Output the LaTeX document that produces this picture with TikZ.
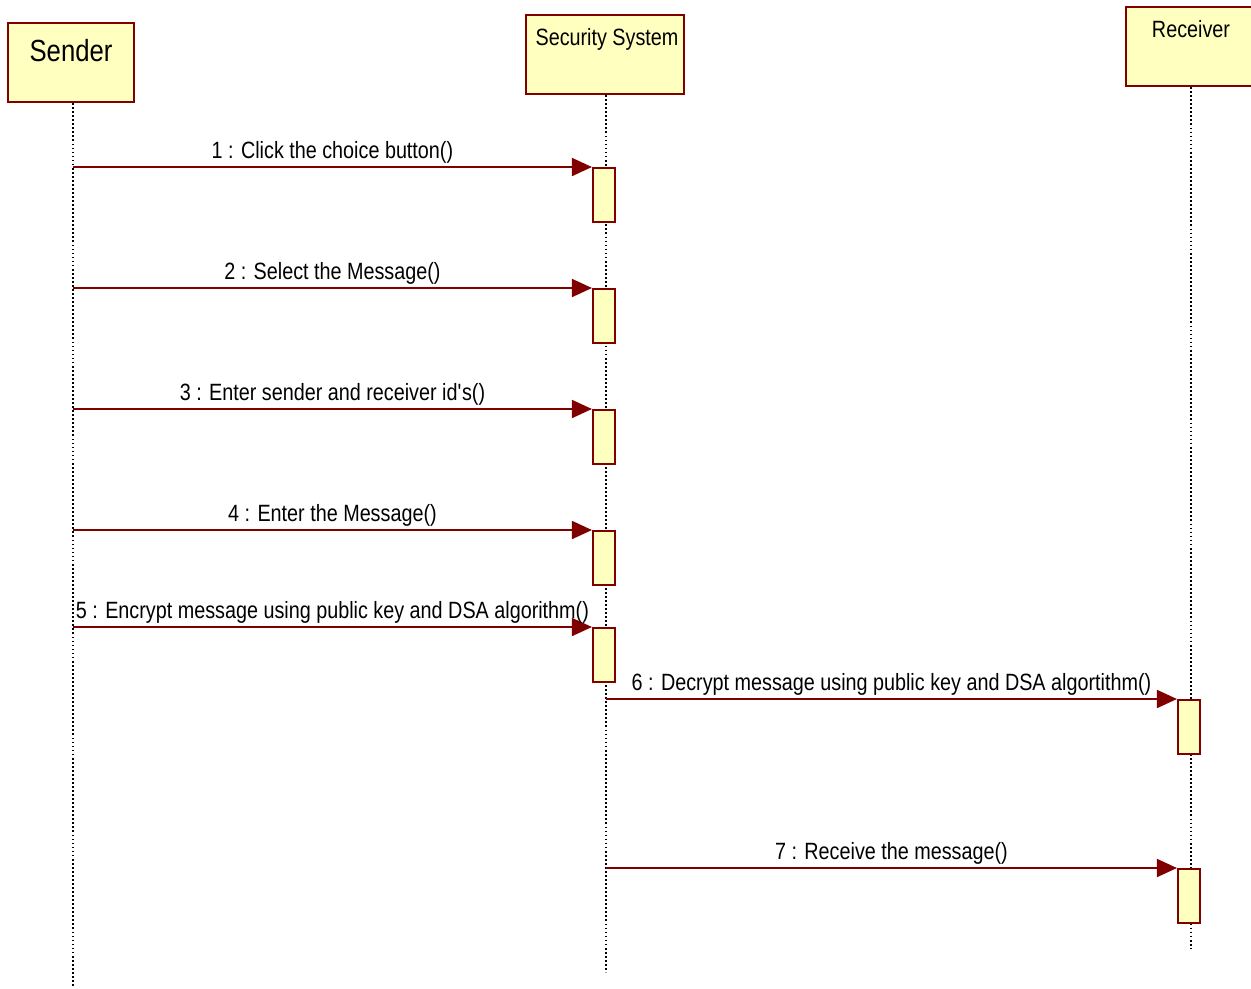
\documentclass[tikz,border=0pt]{standalone}
\usepackage{fontspec}
\setmainfont{Liberation Sans}[FakeStretch=0.84]
\usetikzlibrary{arrows.meta}
\definecolor{umlred}{HTML}{800000}
\definecolor{umlfill}{HTML}{FFFFC0}
\tikzset{
  actor/.style={draw=umlred, fill=umlfill, line width=1.2pt, rectangle,
    minimum width=#1, minimum height=1.58cm, inner sep=0pt, anchor=north},
  actlabel/.style={font=\fontsize{13.4}{15}\selectfont, anchor=base},
  lifeline/.style={draw=black, line width=0.6pt, dash pattern=on 1pt off 1.3pt},
  actbox/.style={draw=umlred, fill=umlfill, line width=1.2pt, rectangle,
    minimum width=0.44cm, minimum height=1.08cm, inner sep=0pt, anchor=north},
  msg/.style={draw=umlred, line width=1pt,
    -{Triangle[length=0.4cm, width=0.36cm, fill=umlred]}},
  msglabel/.style={font=\fontsize{13.4}{15}\selectfont, anchor=base, inner sep=0pt}
}
\begin{document}
\begin{tikzpicture}[x=0.02cm, y=-0.02cm]
\useasboundingbox (0,0) rectangle (1251,988);
\fill[white] (0,0) rectangle (1251,988);

% participants
\node[actor=2.52cm] (snd) at (71,22) {};
\node[actlabel, font=\fontsize{17.4}{19}\selectfont] at (71,61) {Sender};
\node[actor=3.16cm] (sec) at (605,14) {};
\node[actlabel] at (607,45) {Security System};
\node[actor=2.6cm] (rcv) at (1191,6) {};
\node[actlabel] at (1191,37) {Receiver};

% lifelines
\coordinate (sndend) at (73,988);
\coordinate (secend) at (606,972);
\coordinate (rcvend) at (1191,948);
\path[lifeline] (snd.south -| sndend) -- (sndend);
\path[lifeline] (sec.south -| secend) -- (secend);
\path[lifeline] (rcv.south -| rcvend) -- (rcvend);

% activations
\node[actbox] (a1) at (604,167) {};
\node[actbox] (a2) at (604,288) {};
\node[actbox] (a3) at (604,409) {};
\node[actbox] (a4) at (604,530) {};
\node[actbox] (a5) at (604,627) {};
\node[actbox] (a6) at (1189,699) {};
\node[actbox] (a7) at (1189,868) {};

% messages
\draw[msg] (sndend |- a1.north) -- node[msglabel, yshift=0.18cm] {1 : Click the choice button()} (a1.north west);
\draw[msg] (sndend |- a2.north) -- node[msglabel, yshift=0.18cm] {2 : Select the Message()} (a2.north west);
\draw[msg] (sndend |- a3.north) -- node[msglabel, yshift=0.18cm] {3 : Enter sender and receiver id\textquotesingle s()} (a3.north west);
\draw[msg] (sndend |- a4.north) -- node[msglabel, yshift=0.18cm] {4 : Enter the Message()} (a4.north west);
\draw[msg] (sndend |- a5.north) -- node[msglabel, yshift=0.18cm] {5 : Encrypt message using public key and DSA algorithm()} (a5.north west);
\draw[msg] (secend |- a6.north) -- node[msglabel, yshift=0.18cm] {6 : Decrypt message using public key and DSA algortithm()} (a6.north west);
\draw[msg] (secend |- a7.north) -- node[msglabel, yshift=0.18cm] {7 : Receive the message()} (a7.north west);
\end{tikzpicture}
\end{document}
